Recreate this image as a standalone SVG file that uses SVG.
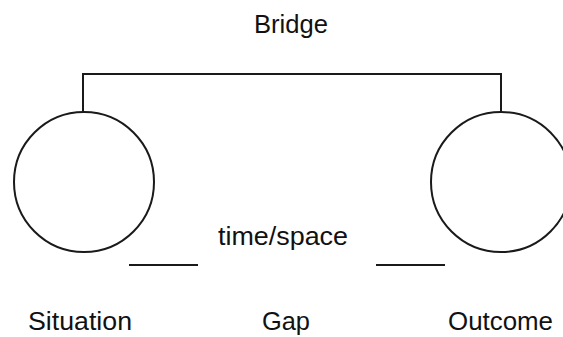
<svg xmlns="http://www.w3.org/2000/svg" width="563" height="337" viewBox="0 0 563 337">
<style>
.s{fill:none;stroke:#1a1a1a;stroke-width:2}
text{font-family:"Liberation Sans",Arial,sans-serif;font-size:26px;fill:#111}
</style>
<rect width="563" height="337" fill="#fff"/>
<g id="connectors">
<polyline class="s" points="83,112 83,74 501,74 501,112"/>
<line class="s" x1="129" y1="265" x2="198" y2="265"/>
<line class="s" x1="376" y1="265" x2="445" y2="265"/>
</g>
<g id="situation">
<circle class="s" cx="84" cy="182" r="70"/>
<text x="28" y="330" textLength="104" lengthAdjust="spacingAndGlyphs">Situation</text>
</g>
<g id="outcome">
<circle class="s" cx="501" cy="182" r="70"/>
<text x="448" y="330" textLength="105" lengthAdjust="spacingAndGlyphs">Outcome</text>
</g>
<g id="bridge">
<text x="254" y="33" textLength="74" lengthAdjust="spacingAndGlyphs">Bridge</text>
</g>
<g id="gap">
<text x="218" y="245" textLength="130" lengthAdjust="spacingAndGlyphs">time/space</text>
<text x="262" y="330" textLength="48" lengthAdjust="spacingAndGlyphs">Gap</text>
</g>
</svg>
